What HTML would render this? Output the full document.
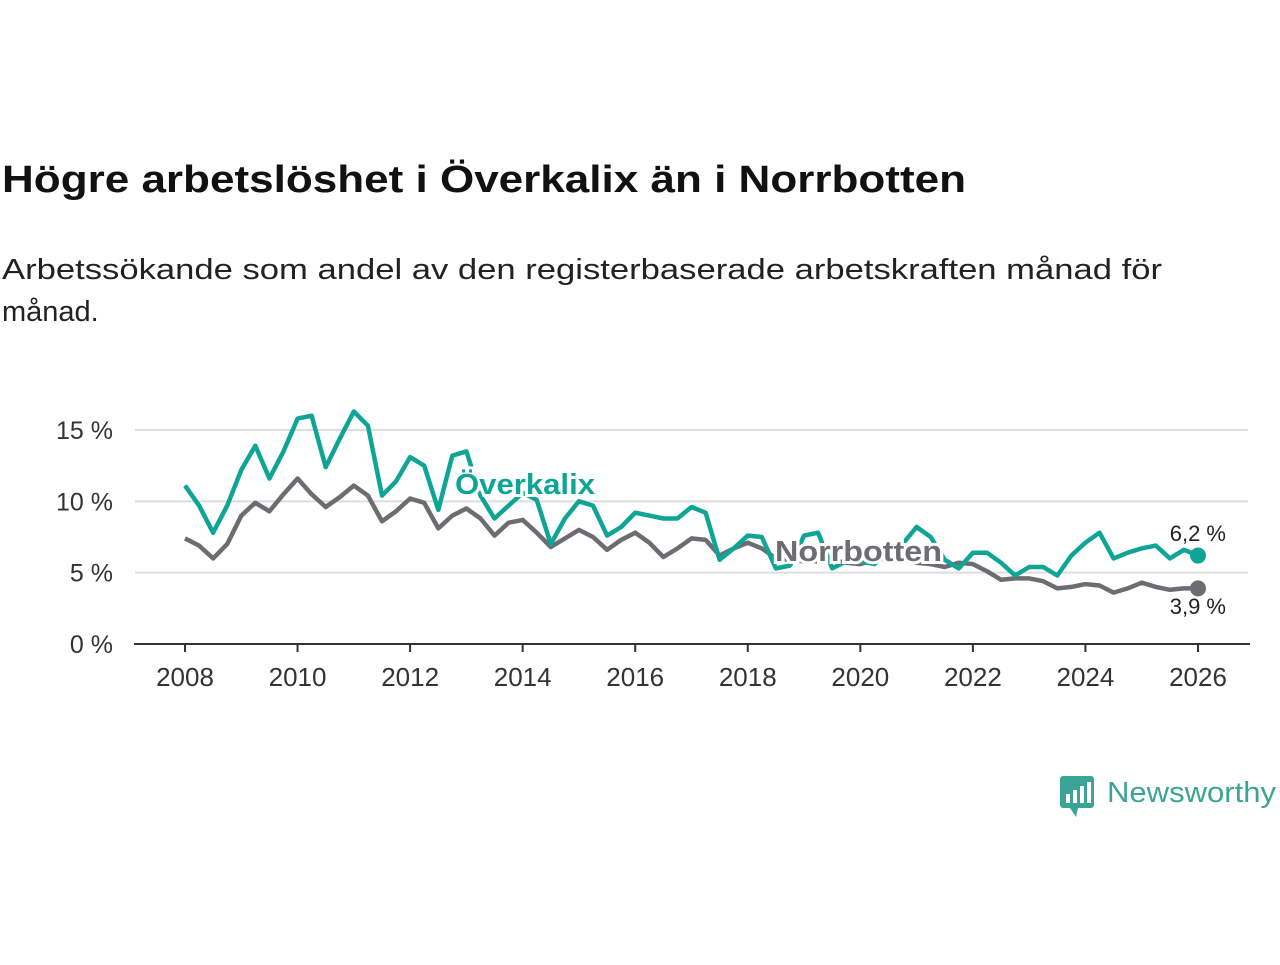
<!DOCTYPE html>
<html><head><meta charset="utf-8"><style>
body{margin:0;background:#fff;width:1280px;height:960px;overflow:hidden;font-family:"Liberation Sans","DejaVu Sans",sans-serif}
</style></head><body>
<svg id="chart" width="1280" height="960" xmlns="http://www.w3.org/2000/svg" font-family="Liberation Sans, DejaVu Sans, sans-serif">
<text x="2" y="192" font-size="38" font-weight="bold" fill="#111" textLength="964" lengthAdjust="spacingAndGlyphs">Högre arbetslöshet i Överkalix än i Norrbotten</text>
<text x="2" y="279" font-size="29" fill="#222" textLength="1160" lengthAdjust="spacingAndGlyphs">Arbetssökande som andel av den registerbaserade arbetskraften månad för</text>
<text x="2" y="321" font-size="29" fill="#222">månad.</text>
<g id="grid"></g><g id="axes"></g><g id="series"></g><g id="labels"></g>
<g>
<rect x="1060" y="776" width="34" height="32" rx="3" fill="#3aa597"/>
<polygon points="1070,808 1078,808 1076,817" fill="#3aa597"/>
<rect x="1066" y="794" width="4" height="9" fill="#fff"/><rect x="1073" y="790" width="4" height="13" fill="#fff"/><rect x="1080" y="786" width="4" height="17" fill="#fff"/><rect x="1087" y="782" width="4" height="21" fill="#fff"/>
<text x="1107" y="802" font-size="29" fill="#3aa597" textLength="169" lengthAdjust="spacingAndGlyphs">Newsworthy</text>
</g>
</svg>
<script>
const years=[2008,2010,2012,2014,2016,2018,2020,2022,2024,2026];
const yTicks=[0,5,10,15];
const startYear=2008, stepYears=0.25;
const overkalix=[11.1,9.7,7.8,9.7,12.2,13.9,11.6,13.5,15.8,16.0,12.4,14.4,16.3,15.3,10.4,11.4,13.1,12.5,9.4,13.2,13.5,
10.4,8.8,9.7,10.6,10.1,7.0,8.8,10.0,9.7,7.6,8.2,9.2,9.0,8.8,8.8,9.6,9.2,5.9,6.7,7.6,7.5,5.3,
5.5,7.6,7.8,5.3,5.8,5.8,5.6,6.5,7.0,8.2,7.5,5.9,
5.3,6.4,6.4,5.7,4.8,5.4,5.4,4.8,6.2,7.1,7.8,6.0,6.4,6.7,6.9,6.0,6.6,6.2];
const norrbotten=[7.4,6.9,6.0,7.0,9.0,9.9,9.3,10.5,11.6,10.5,9.6,10.3,11.1,10.4,8.6,9.3,10.2,9.9,8.1,9.0,9.5,
8.8,7.6,8.5,8.7,7.8,6.8,7.4,8.0,7.5,6.6,7.3,7.8,7.1,6.1,6.7,7.4,7.3,6.2,6.7,7.1,6.7,6.0,
5.9,5.8,5.8,5.9,5.7,5.6,5.9,6.0,5.9,5.7,5.6,5.4,
5.7,5.6,5.1,4.5,4.6,4.6,4.4,3.9,4.0,4.2,4.1,3.6,3.9,4.3,4.0,3.8,3.9,3.9];
const NS="http://www.w3.org/2000/svg";
const X=t=>185+(t-2008)*(1198-185)/18;
const Y=v=>644-v*(644-430)/15;
function mk(tag,attrs,parent){const e=document.createElementNS(NS,tag);for(const k in attrs)e.setAttribute(k,attrs[k]);document.getElementById(parent).appendChild(e);return e;}
yTicks.forEach(v=>{
 if(v>0){const l=mk('line',{x1:135,x2:1248,y1:Y(v),y2:Y(v),stroke:'#ddd','stroke-width':2},'grid');
 
 }
 const t=mk('text',{x:113,y:Y(v)+9,'font-size':25,fill:'#333','text-anchor':'end'},'axes');t.textContent=v+' %';
 
 
});
const ax=mk('line',{x1:134,x2:1250,y1:644,y2:644,stroke:'#333','stroke-width':2},'axes');


years.forEach(y=>{
 const tk=mk('line',{x1:X(y),x2:X(y),y1:644,y2:652,stroke:'#333','stroke-width':2},'axes');
 
 
 const t=mk('text',{x:X(y),y:686,'font-size':26,fill:'#333','text-anchor':'middle'},'axes');t.textContent=y;
 
 
});
function line(data,color,name){
 const d=data.map((v,i)=>(i?'L':'M')+X(startYear+i*stepYears).toFixed(1)+','+Y(v).toFixed(1)).join('');
 const p=mk('path',{d:d,fill:'none',stroke:color,'stroke-width':4.5,'stroke-linejoin':'round'},'series');
 
 
 const last=data.length-1;
 const c=mk('circle',{cx:X(startYear+last*stepYears),cy:Y(data[last]),r:8,fill:color},'series');
 
 
}
line(norrbotten,'#6d6c70','norrbotten');
line(overkalix,'#0ea597','overkalix');
function lab(txt,x,y,color,bold,name,anchor,len){
 const a={x:x,y:y,'font-size':bold?29:22,'font-weight':bold?'bold':'normal',fill:color,stroke:'#fff','stroke-width':bold?6:0,'paint-order':'stroke','text-anchor':anchor||'start'};
 if(len){a.textLength=len;a.lengthAdjust='spacingAndGlyphs';}
 const t=mk('text',a,'labels');t.textContent=txt;
 
 
}
lab('Överkalix',455,494,'#0ea597',true,'overkalix-label','start',140);
lab('Norrbotten',775,561,'#6d6c70',true,'norrbotten-label','start',167);
lab('6,2 %',1226,541,'#222',false,'overkalix-end-value','end');
lab('3,9 %',1226,614,'#222',false,'norrbotten-end-value','end');
</script>
</body></html>
